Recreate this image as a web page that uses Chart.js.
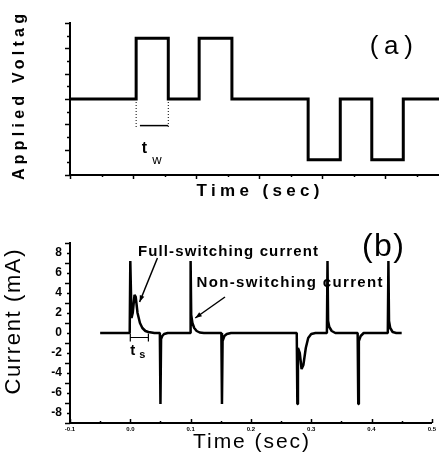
<!DOCTYPE html>
<html>
<head>
<meta charset="utf-8">
<script src="https://cdn.jsdelivr.net/npm/chart.js@4.4.0/dist/chart.umd.min.js"></script>
<style>
  body { margin: 0; background: #fff; }
  #wrap { position: relative; width: 439px; height: 464px; overflow: hidden; }
  canvas { position: absolute; left: 0; }
  #chartA { top: 0; }
  #chartB { top: 218px; }
</style>
</head>
<body>
<div id="wrap">
  <canvas id="chartA" width="439" height="215"></canvas>
  <canvas id="chartB" width="439" height="246"></canvas>
</div>
<script>
// (a) pulsos de tension aplicada
const voltTime  = [-0.1, 0.005, 0.005, 0.056, 0.056, 0.105, 0.105, 0.157, 0.157, 0.278, 0.278, 0.329, 0.329, 0.379, 0.379, 0.429, 0.429, 0.49];
const voltValue = [0, 0, 2.4, 2.4, 0, 0, 2.4, 2.4, 0, 0, -2.4, -2.4, 0, 0, -2.4, -2.4, 0, 0];

// (b) corriente medida (mA)
const currTime = [
  -0.05, -0.001, 0.0, 0.002, 0.004, 0.007, 0.009, 0.012, 0.016, 0.02, 0.025, 0.03, 0.04,
  0.049, 0.05, 0.051, 0.053, 0.056, 0.062,
  0.099, 0.1, 0.101, 0.103, 0.106, 0.11, 0.115, 0.122,
  0.151, 0.152, 0.153, 0.156, 0.16, 0.167,
  0.276, 0.277, 0.278, 0.281, 0.284, 0.287, 0.291, 0.295, 0.3, 0.307,
  0.326, 0.327, 0.328, 0.33, 0.334, 0.34,
  0.377, 0.378, 0.379, 0.382, 0.387,
  0.427, 0.428, 0.429, 0.431, 0.435, 0.441, 0.45
];
const currValue = [
  0, 0, 7.2, 1.5, 2.0, 3.8, 3.6, 2.0, 1.0, 0.5, 0.2, 0.1, 0,
  0, -7.1, -0.6, -0.3, -0.1, 0,
  0, 7.2, 1.8, 1.0, 0.5, 0.2, 0.05, 0,
  0, -7.1, -0.8, -0.3, -0.1, 0,
  0, -7.1, -1.5, -2.0, -3.6, -3.2, -1.5, -0.5, -0.1, 0,
  0, 7.2, 1.2, 0.6, 0.2, 0,
  0, -7.1, -0.8, -0.3, 0,
  0, 7.2, 1.2, 0.5, 0.1, 0, 0
];

const timeTicks = [-0.1, 0, 0.1, 0.2, 0.3, 0.4, 0.5];
const currentTicks = [-8, -6, -4, -2, 0, 2, 4, 6, 8];

const FONT = '"Liberation Sans", Arial, sans-serif';

// texto con espaciado ajustado a un ancho dado
function spacedText(ctx, text, cx, cy, width, font, rotate) {
  ctx.save();
  ctx.font = font;
  ctx.letterSpacing = '0px';
  const w = ctx.measureText(text).width;
  const sp = text.length > 1 ? (width - w) / (text.length - 1) : 0;
  ctx.letterSpacing = sp + 'px';
  ctx.translate(cx, cy);
  if (rotate) ctx.rotate(-Math.PI / 2);
  ctx.textAlign = 'left';
  ctx.textBaseline = 'middle';
  ctx.fillStyle = '#000';
  ctx.fillText(text, -width / 2, 0);
  ctx.restore();
}

function arrow(ctx, x1, y1, x2, y2) {
  const ang = Math.atan2(y2 - y1, x2 - x1);
  ctx.beginPath();
  ctx.moveTo(x1, y1);
  ctx.lineTo(x2, y2);
  ctx.stroke();
  ctx.beginPath();
  ctx.moveTo(x2, y2);
  ctx.lineTo(x2 - 7 * Math.cos(ang - 0.35), y2 - 7 * Math.sin(ang - 0.35));
  ctx.lineTo(x2 - 7 * Math.cos(ang + 0.35), y2 - 7 * Math.sin(ang + 0.35));
  ctx.closePath();
  ctx.fill();
}

// marcas mayores y menores
function yMarks(ctx, chart, from, to, step, majorEvery) {
  const { chartArea: a, scales: { y } } = chart;
  let i = 0;
  for (let v = from; v <= to + 1e-9; v += step, i++) {
    const py = Math.round(y.getPixelForValue(v)) + 0.5;
    const len = i % majorEvery === 0 ? 5 : 3;
    ctx.beginPath();
    ctx.moveTo(a.left, py);
    ctx.lineTo(a.left - len, py);
    ctx.stroke();
  }
}
function xMarks(ctx, chart, from, to, step, majorEvery, dir) {
  const { chartArea: a, scales: { x } } = chart;
  let i = 0;
  for (let v = from; v <= to + 1e-9; v += step, i++) {
    const px = Math.round(x.getPixelForValue(v)) + 0.5;
    const len = i % majorEvery === 0 ? 4 : 2;
    ctx.beginPath();
    ctx.moveTo(px, a.bottom);
    ctx.lineTo(px, a.bottom + dir * len);
    ctx.stroke();
  }
}

const decorA = {
  id: 'decorA',
  afterDraw(chart) {
    const { ctx, scales: { x, y } } = chart;
    ctx.save();
    ctx.strokeStyle = '#000';
    ctx.fillStyle = '#000';
    ctx.lineWidth = 1.5;
    yMarks(ctx, chart, -3, 3, 0.5, 2);
    xMarks(ctx, chart, -0.1, 0.48, 0.05, 2, 1);

    // t_w
    ctx.lineWidth = 1;
    ctx.setLineDash([1, 2]);
    [0.005, 0.056].forEach(t => {
      ctx.beginPath();
      ctx.moveTo(x.getPixelForValue(t), y.getPixelForValue(0));
      ctx.lineTo(x.getPixelForValue(t), y.getPixelForValue(-1.15));
      ctx.stroke();
    });
    ctx.setLineDash([]);
    ctx.lineWidth = 1.5;
    ctx.beginPath();
    ctx.moveTo(x.getPixelForValue(0.011), y.getPixelForValue(-1.05));
    ctx.lineTo(x.getPixelForValue(0.056), y.getPixelForValue(-1.05));
    ctx.stroke();
    ctx.font = 'bold 16px ' + FONT;
    ctx.textAlign = 'center';
    ctx.textBaseline = 'alphabetic';
    ctx.fillText('t', x.getPixelForValue(0.018), y.getPixelForValue(-2.15));
    ctx.font = '13px ' + FONT;
    ctx.fillText('w', x.getPixelForValue(0.038), y.getPixelForValue(-2.55));
    ctx.restore();

    spacedText(ctx, '(a)', x.getPixelForValue(0.41), y.getPixelForValue(2.05), 43, '26px ' + FONT);
    spacedText(ctx, 'Applied Voltag', 20, 97, 166, 'bold 16px ' + FONT, true);
    spacedText(ctx, 'Time (sec)', 258, 191, 123, 'bold 17px ' + FONT);
  }
};

const decorB = {
  id: 'decorB',
  afterDraw(chart) {
    const { ctx, scales: { x, y } } = chart;
    ctx.save();
    ctx.strokeStyle = '#000';
    ctx.fillStyle = '#000';
    ctx.lineWidth = 1.5;
    yMarks(ctx, chart, -9, 9, 1, 2);
    xMarks(ctx, chart, -0.1, 0.5, 0.05, 2, -1);

    // flechas de las anotaciones
    ctx.lineWidth = 1.5;
    arrow(ctx, x.getPixelForValue(0.045), y.getPixelForValue(7.5), x.getPixelForValue(0.0154), y.getPixelForValue(3.1));
    arrow(ctx, x.getPixelForValue(0.157), y.getPixelForValue(3.6), x.getPixelForValue(0.1077), y.getPixelForValue(1.5));

    // t_s
    const ty = y.getPixelForValue(-0.45);
    const tx1 = x.getPixelForValue(0.0), tx2 = x.getPixelForValue(0.03);
    ctx.lineWidth = 1.2;
    ctx.beginPath();
    ctx.moveTo(tx1, ty); ctx.lineTo(tx2, ty);
    ctx.moveTo(tx1, ty - 4); ctx.lineTo(tx1, ty + 4);
    ctx.moveTo(tx2, ty - 4); ctx.lineTo(tx2, ty + 4);
    ctx.stroke();
    ctx.font = 'bold 15px ' + FONT;
    ctx.textAlign = 'center';
    ctx.textBaseline = 'alphabetic';
    ctx.fillText('t', x.getPixelForValue(0.004), y.getPixelForValue(-2.2));
    ctx.font = 'bold 11px ' + FONT;
    ctx.fillText('s', x.getPixelForValue(0.02), y.getPixelForValue(-2.5));
    ctx.restore();

    spacedText(ctx, 'Full-switching current', x.getPixelForValue(0.162), y.getPixelForValue(8.1), 180, 'bold 15px ' + FONT);
    spacedText(ctx, 'Non-switching current', x.getPixelForValue(0.264), y.getPixelForValue(5.0), 186, 'bold 15px ' + FONT);
    spacedText(ctx, '(b)', x.getPixelForValue(0.419), y.getPixelForValue(8.6), 42, '32px ' + FONT);
    spacedText(ctx, 'Current (mA)', 14, 322 - 218, 145, '22px ' + FONT, true);
    spacedText(ctx, 'Time (sec)', 251, 442 - 218, 116, '21px ' + FONT);
  }
};

new Chart(document.getElementById('chartA'), {
  type: 'line',
  data: {
    datasets: [{
      data: voltTime.map((t, i) => ({ x: t, y: voltValue[i] })),
      borderColor: '#000',
      borderWidth: 3,
      pointRadius: 0,
      tension: 0
    }]
  },
  options: {
    responsive: false,
    animation: false,
    layout: { padding: { top: 23, right: 0, left: 0, bottom: 0 } },
    plugins: { legend: { display: false }, tooltip: { enabled: false } },
    scales: {
      x: {
        type: 'linear', min: -0.1, max: 0.4857,
        grid: { display: false, drawTicks: false },
        border: { color: '#000', width: 2 },
        ticks: { display: false },
        afterFit(s) { s.height = 40; }
      },
      y: {
        min: -3, max: 3,
        grid: { display: false, drawTicks: false },
        border: { color: '#000', width: 2 },
        ticks: { display: false },
        afterFit(s) { s.width = 70; }
      }
    }
  },
  plugins: [decorA]
});

new Chart(document.getElementById('chartB'), {
  type: 'line',
  data: {
    datasets: [{
      data: currTime.map((t, i) => ({ x: t, y: currValue[i] })),
      borderColor: '#000',
      borderWidth: 2.5,
      borderJoinStyle: 'bevel',
      pointRadius: 0,
      tension: 0
    }]
  },
  options: {
    responsive: false,
    animation: false,
    layout: { padding: { top: 25, right: 6, left: 0, bottom: 0 } },
    plugins: { legend: { display: false }, tooltip: { enabled: false } },
    scales: {
      x: {
        type: 'linear', min: -0.1, max: 0.5,
        grid: { display: false, drawTicks: false },
        border: { color: '#000', width: 2 },
        afterBuildTicks(s) { s.ticks = timeTicks.map(v => ({ value: v })); },
        ticks: {
          color: '#000', padding: 3, maxRotation: 0, autoSkip: false,
          font: { family: FONT, size: 6, weight: 'bold' },
          callback: v => v.toFixed(1)
        },
        afterFit(s) { s.height = 41; }
      },
      y: {
        min: -9, max: 9,
        grid: { display: false, drawTicks: false },
        border: { color: '#000', width: 2 },
        afterBuildTicks(s) { s.ticks = currentTicks.map(v => ({ value: v })); },
        ticks: {
          color: '#000', padding: 8,
          font: { family: FONT, size: 12, weight: 'bold' }
        },
        afterFit(s) { s.width = 70; }
      }
    }
  },
  plugins: [decorB]
});
</script>
</body>
</html>
